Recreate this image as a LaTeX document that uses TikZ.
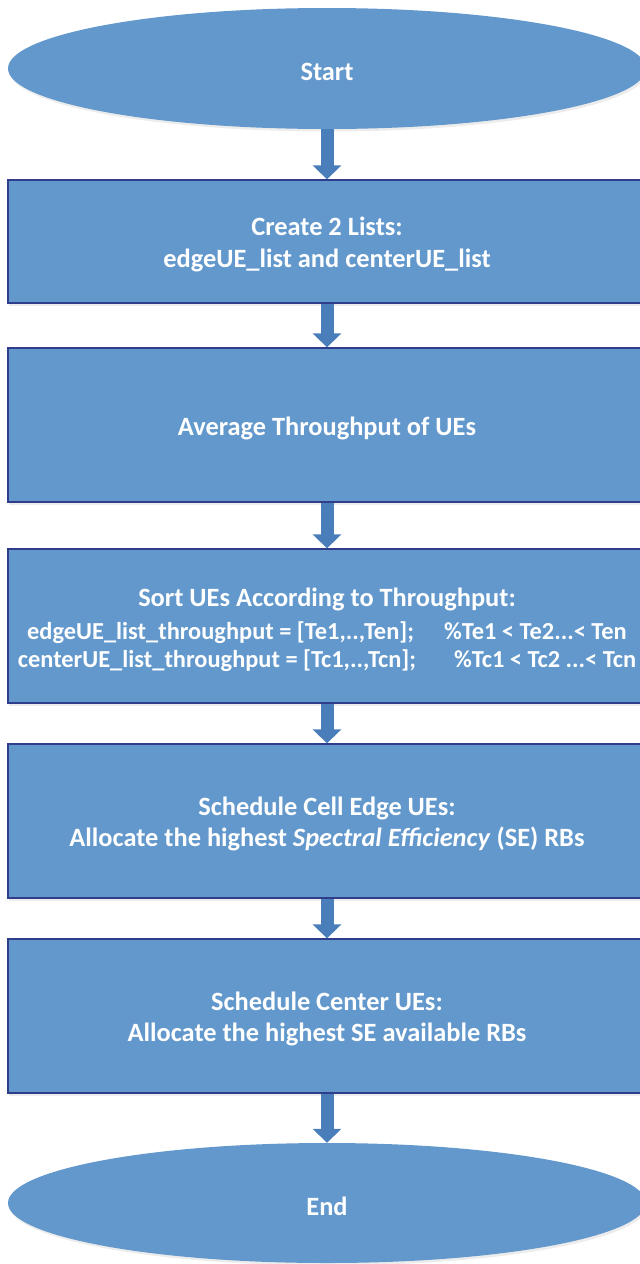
\documentclass[tikz,border=0pt]{standalone}
\usepackage{fontspec}
\setmainfont{Carlito}
\usetikzlibrary{arrows.meta,shapes.geometric,shadows}
\definecolor{boxfill}{HTML}{6298CC}
\definecolor{boxline}{HTML}{2F3D8A}
\definecolor{flowarrow}{HTML}{4A7EBB}
\newcommand{\bigline}{\fontsize{26.5}{32}\selectfont}
\newcommand{\smallline}{\fontsize{24.5}{28.5}\selectfont}
\begin{document}
\begin{tikzpicture}[x=1bp,y=-1bp]
\tikzset{
  soft shadow/.style={drop shadow={shadow xshift=1.5bp,shadow yshift=-2.5bp,opacity=0.12,fill=black!60}},
  terminal/.style={ellipse, fill=boxfill, minimum width=638bp, inner sep=0pt, soft shadow},
  stepbox/.style={rectangle, fill=boxfill, draw=boxline, line width=1.3bp,
    minimum width=638bp, inner sep=0pt, soft shadow},
  steptext/.style={inner sep=0pt, text=white, align=center, font=\bfseries\bigline, yshift=-3bp},
  flow/.style={draw=flowarrow, line width=13bp, -{Triangle[width=28bp,length=14bp]}}
}
\useasboundingbox (0,0) rectangle (640,1264);

% shapes of the flow chart
\node[terminal, minimum height=121bp] (start) at (327,68.5) {};
\node[stepbox, minimum height=123bp] (lists) at (327,241.5) {};
\node[stepbox, minimum height=154bp] (avg) at (327,425) {};
\node[stepbox, minimum height=154bp] (sort) at (327,626) {};
\node[stepbox, minimum height=154bp] (edge) at (327,821) {};
\node[stepbox, minimum height=154bp] (center) at (327,1016) {};
\node[terminal, minimum height=120bp] (end) at (327,1203) {};

% texts
\node[steptext] (start-text) at (start.center) {Start};
\node[steptext] (lists-text) at (lists.center)
  {Create 2 Lists:\\edgeUE\_list and centerUE\_list};
\node[steptext] (avg-text) at (avg.center) {Average Throughput of UEs};
\node[steptext, font=\bfseries\smallline, yshift=-1bp] (sort-text) at (sort.center)
  {{\bigline Sort UEs According to Throughput:}\\[4bp]
   edgeUE\_list\_throughput = [Te1,..,Ten];\hspace{30bp}\%Te1 < Te2...< Ten\\
   centerUE\_list\_throughput = [Tc1,..,Tcn];\hspace{38bp}\%Tc1 < Tc2 ...< Tcn};
\node[steptext] (edge-text) at (edge.center)
  {Schedule Cell Edge UEs:\\Allocate the highest \textit{Spectral Efficiency} (SE) RBs};
\node[steptext] (center-text) at (center.center)
  {Schedule Center UEs:\\Allocate the highest SE available RBs};
\node[steptext] (end-text) at (end.center) {End};

% connectors
\draw[flow] (start.south) -- (lists.north);
\draw[flow] (lists.south) -- (avg.north);
\draw[flow] (avg.south) -- (sort.north);
\draw[flow] (sort.south) -- (edge.north);
\draw[flow] (edge.south) -- (center.north);
\draw[flow] (center.south) -- (end.north);
\end{tikzpicture}
\end{document}
